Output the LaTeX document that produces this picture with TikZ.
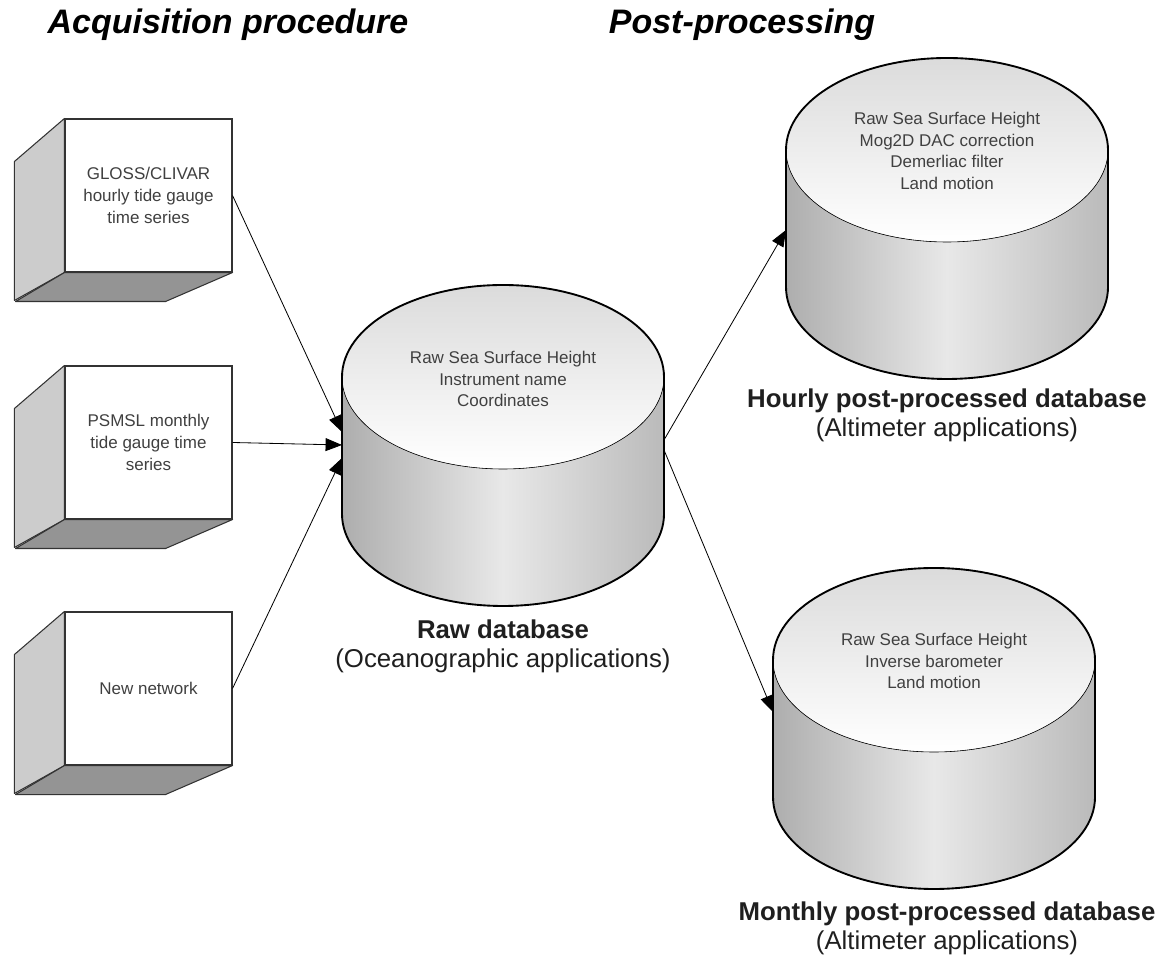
\documentclass[tikz,border=0pt]{standalone}
\usepackage{fontspec}
\setmainfont{Liberation Sans}
\usetikzlibrary{arrows.meta}

\tikzset{
  pics/dbcyl/.style={code={
    \fill[left color=black!32, right color=black!27, middle color=black!9]
      (-161,0) -- (-161,-137) arc (180:360:161 and 92) -- (161,0) -- cycle;
    \fill[top color=black!14, bottom color=white] (0,0) ellipse (161 and 92);
    \draw[line width=0.5pt] (-161,0) arc (180:360:161 and 92);
    \draw[line width=1.6pt] (-161,0) arc (180:0:161 and 92) -- (161,-137)
      arc (360:180:161 and 92) -- cycle;
  }}
}

\begin{document}
\begin{tikzpicture}[
    x=0.03cm, y=0.03cm,
    gauge/.style={draw=black!80, fill=white, line width=0.9pt,
      minimum width=5.01cm, minimum height=4.59cm, inner sep=0pt,
      align=center, text=black!75, font=\fontsize{14.5}{18.5}\selectfont},
    sideface/.style={draw=black!80, fill=black!20, line width=0.9pt, line join=round},
    baseface/.style={draw=black!80, fill=black!42, line width=0.9pt, line join=round},
    dbtext/.style={align=center, text=black!75, font=\fontsize{14.5}{18.5}\selectfont},
    dblabel/.style={align=center, text=black!88, font=\fontsize{22}{25}\selectfont},
    heading/.style={font=\fontsize{29}{34}\selectfont\bfseries\itshape},
    feed/.style={line width=0.7pt, -{Stealth[length=14pt,width=11pt,inset=0pt]}}
]
\useasboundingbox (0,0) rectangle (1157,960);

% headings
\node[heading] (acq)  at (228,935) {Acquisition procedure};
\node[heading] (post) at (742,935) {Post-processing};

% tide gauge sources
\node[gauge] (gloss) at (148.5,764.5) {GLOSS/CLIVAR\\hourly tide gauge\\time series};
\node[gauge] (psmsl) at (148.5,517.5) {PSMSL monthly\\tide gauge time\\series};
\node[gauge] (newnet) at (148.5,271.5) {New network};
\foreach \n in {gloss,psmsl,newnet}{
  \draw[sideface] (\n.north west) -- ++(-50,-43) -- ++(0,-139) -- (\n.south west) -- cycle;
  \draw[baseface] (\n.south west) -- (\n.south east) -- ++(-67,-29) -- ++(-150,0) -- cycle;
}

% databases
\pic at (503,583) {dbcyl};
\pic at (947,810) {dbcyl};
\pic at (934,300) {dbcyl};

\node[dbtext] (rawtxt) at (503,581) {Raw Sea Surface Height\\Instrument name\\Coordinates};
\node[dbtext] (hourtxt) at (947,809) {Raw Sea Surface Height\\Mog2D DAC correction\\Demerliac filter\\Land motion};
\node[dbtext] (montxt) at (934,299) {Raw Sea Surface Height\\Inverse barometer\\Land motion};

\node[dblabel] (rawlab) at (503,314) {\textbf{Raw database}\\(Oceanographic applications)};
\node[dblabel] (hourlab) at (947,545) {\textbf{Hourly post-processed database}\\(Altimeter applications)};
\node[dblabel] (monlab) at (947,32) {\textbf{Monthly post-processed database}\\(Altimeter applications)};

% connectors
\coordinate (rawin1) at (342,528);
\coordinate (rawin2) at (342,515);
\coordinate (rawin3) at (342,502);
\coordinate (rawout1) at (664,520);
\coordinate (rawout2) at (664,510);
\coordinate (hourin) at (786,730);
\coordinate (monin) at (773,248);

\draw[feed] (gloss.east) -- (rawin1);
\draw[feed] (psmsl.east) -- (rawin2);
\draw[feed] (newnet.east) -- (rawin3);
\draw[feed] (rawout1) -- (hourin);
\draw[feed] (rawout2) -- (monin);
\end{tikzpicture}
\end{document}
